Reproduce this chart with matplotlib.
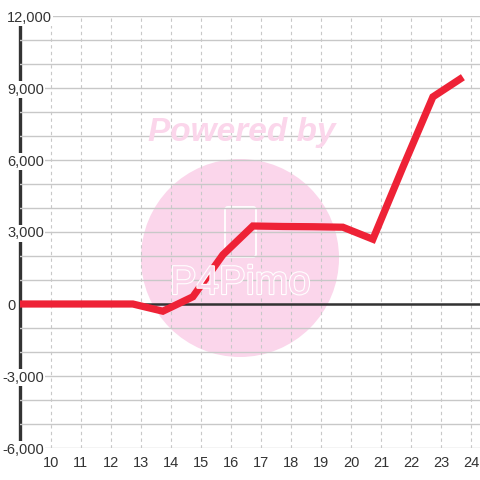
import matplotlib
matplotlib.use("Agg")
from matplotlib import pyplot as plt
from matplotlib import patheffects
from matplotlib.patches import Circle, FancyBboxPatch
from matplotlib.ticker import MultipleLocator
from matplotlib.transforms import blended_transform_factory

plt.rcParams['font.family'] = ['Liberation Sans', 'DejaVu Sans']

# data
x_values = [8.73, 9.73, 10.73, 11.73, 12.73, 13.73, 14.73, 15.73,
            16.73, 17.73, 18.73, 19.73, 20.73, 21.73, 22.73, 23.73]
y_values = [0, 0, 0, 0, 0, -300, 300, 2050,
            3250, 3230, 3220, 3200, 2700, 5700, 8630, 9450]
x_ticks = list(range(10, 25))
y_ticks = [-6000, -3000, 0, 3000, 6000, 9000, 12000]

pink = '#fbd6eb'

fig = plt.figure(figsize=(4.8, 4.8), dpi=100)
ax = fig.add_axes([20 / 480, 32 / 480, 460 / 480, 432 / 480])
ax.set_xlim(8.97, 24.3)
ax.set_ylim(-6000, 12000)
ax.set_axisbelow(True)

# watermark
ax.add_patch(Circle((240 / 480, 1 - 258 / 480), 99 / 480, transform=fig.transFigure,
                    facecolor=pink, edgecolor='none', zorder=0.2))
ax.add_patch(FancyBboxPatch((225 / 480, 1 - 257 / 480), 31 / 480, 50 / 480,
                            boxstyle='round,pad=0,rounding_size=0.006',
                            transform=fig.transFigure, facecolor='none',
                            edgecolor='white', lw=1.3, zorder=0.3))
fig.text(242 / 480, 1 - 133 / 480, 'Powered by', ha='center', va='center',
         fontsize=24, fontweight='bold', style='italic', color=pink, zorder=0.2)
t = fig.text(240 / 480, 1 - 283 / 480, 'P4Pimo', ha='center', va='center',
             fontsize=29, color=pink, zorder=0.3)
t.set_path_effects([patheffects.Stroke(linewidth=1.6, foreground='white'),
                    patheffects.Normal()])

ax.plot(x_values, y_values, color='#ee2236', lw=5.2, zorder=3,
        solid_capstyle='butt', solid_joinstyle='miter')
ax.axhline(0, color='#333333', lw=1.8, zorder=2)

ax.set_xticks(x_ticks)
ax.set_yticks(y_ticks)
ax.yaxis.set_minor_locator(MultipleLocator(1000))
ax.grid(axis='y', which='both', color='#c8c8c8', lw=1, ls='-')
ax.grid(axis='x', which='major', color='#c8c8c8', lw=0.8, ls=(0, (3, 3)))

for s in ['top', 'right', 'bottom']:
    ax.spines[s].set_visible(False)
ax.spines['left'].set_color('#333333')
ax.spines['left'].set_linewidth(2.4)
ax.spines['left'].set_zorder(0.4)

ax.tick_params(axis='both', which='both', length=0, labelsize=10.5, labelcolor='#333333')
ax.tick_params(axis='x', pad=6)
ax.tick_params(axis='y', labelleft=False)

# y labels sit left-aligned over the axis line, with a white backing
trans = blended_transform_factory(fig.transFigure, ax.transData)
for v in y_ticks:
    x0 = 7 / 480 if v >= 0 else 2.2 / 480
    ax.text(x0, v, f'{v:,}', transform=trans, ha='left', va='center_baseline',
            fontsize=10.5, color='#333333', zorder=1, clip_on=False,
            bbox=dict(facecolor='white', edgecolor='none', pad=1))

fig.savefig('out.png', dpi=100)
